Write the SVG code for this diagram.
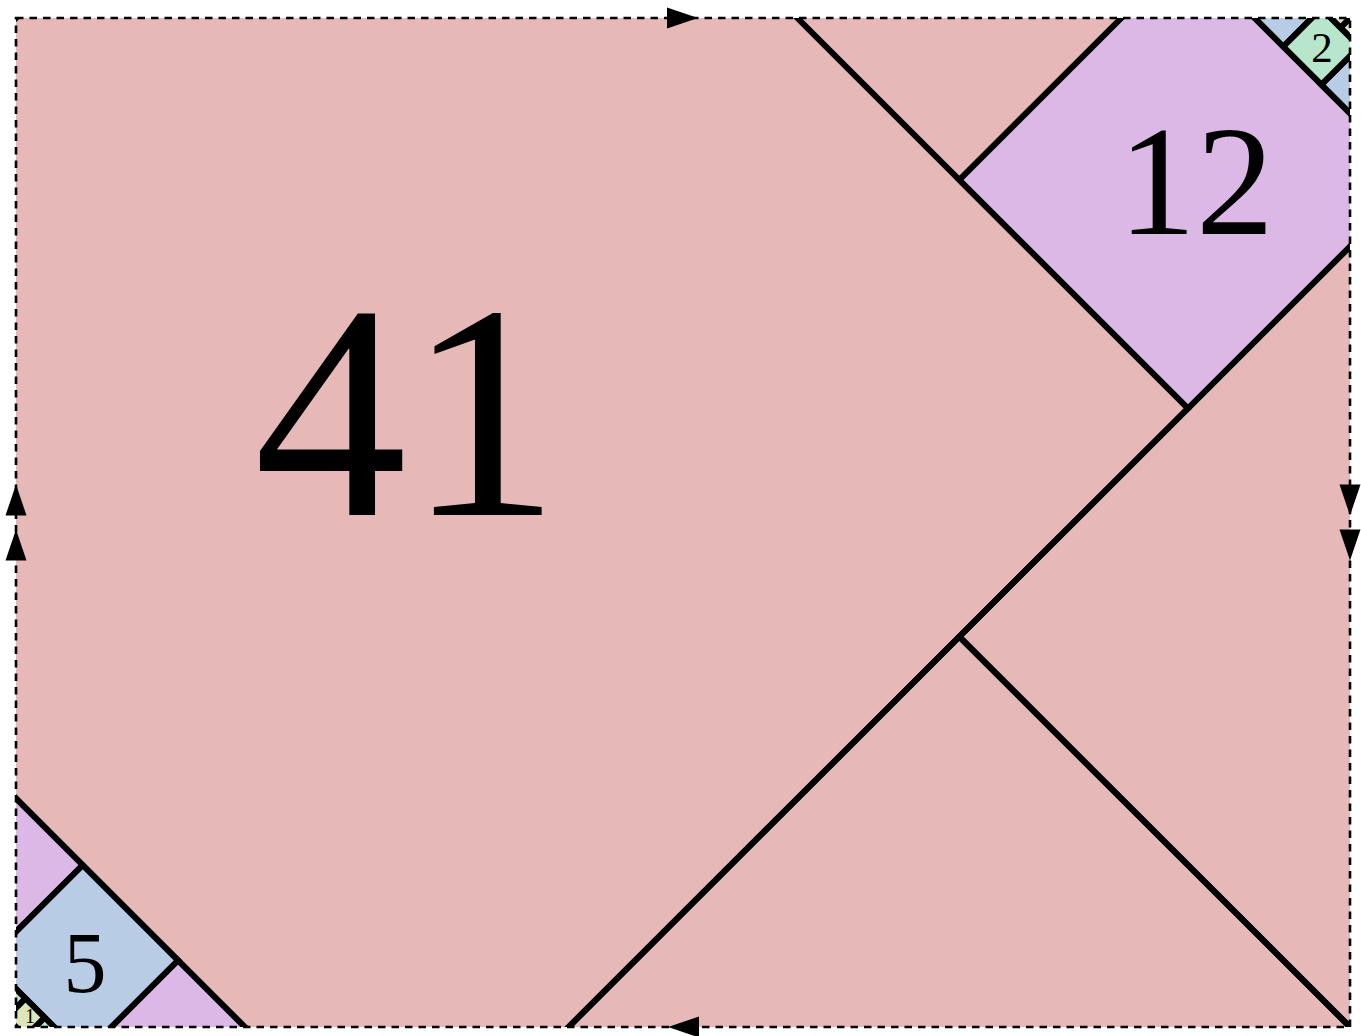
<svg xmlns="http://www.w3.org/2000/svg" width="1361" height="1036" viewBox="0 0 1361 1036">
  <style>
    .e { stroke: #000; stroke-width: 6; vector-effect: non-scaling-stroke; stroke-linejoin: miter; }
    .n { fill: none; }
    .p41 { fill: #e6b8b7; }
    .p12 { fill: #dcb8e6; }
    .p5 { fill: #b8cce6; }
    .p2 { fill: #b8e6cc; }
    .p1 { fill: #dce6b8; }
    .lbl { font-family: "Liberation Serif", "Times New Roman", serif; text-anchor: middle; fill: #000; }
    .frame { fill: none; stroke: #000; stroke-width: 2.6; stroke-dasharray: 7.5 6; }
  </style>
  <defs>
    <clipPath id="dom">
      <rect x="16" y="18" width="1334" height="1009"/>
    </clipPath>
    <path id="arr" d="M 15.5 0 L -15.5 -10.5 L -15.5 10.5 Z" fill="#000"/>
  </defs>
  <rect x="0" y="0" width="1361" height="1036" fill="#fff"/>
  <g id="tiles" clip-path="url(#dom)">
    <g id="tile-41">
      <rect class="p41" x="16" y="18" width="1334" height="1009"/>
      <g transform="translate(16 18) scale(19.0571 19.0377)">
        <polygon class="e n" points="-20.5,20.5 20.5,-20.5 61.5,20.5 20.5,61.5"/>
        <polygon class="e n" points="49.5,32.5 90.5,-8.5 131.5,32.5 90.5,73.5"/>
        <polygon class="e n" points="90.5,73.5 49.5,32.5 8.5,73.5 49.5,114.5"/>
      </g>
      <text class="lbl" x="407" y="515" font-size="306">41</text>
    </g>
    <g id="tile-12">
      <g transform="translate(16 18) scale(19.0571 19.0377)">
        <polygon class="e p12" points="49.5,8.5 61.5,-3.5 73.5,8.5 61.5,20.5"/>
        <polygon class="e p12" points="20.5,61.5 8.5,49.5 -3.5,61.5 8.5,73.5"/>
        <polygon class="e p12" points="-20.5,44.5 -8.5,32.5 3.5,44.5 -8.5,56.5"/>
      </g>
      <text class="lbl" x="1196" y="234" font-size="156">12</text>
    </g>
    <g id="tile-5">
      <g transform="translate(16 18) scale(19.0571 19.0377)">
        <polygon class="e p5" points="-1.5,49.5 3.5,44.5 8.5,49.5 3.5,54.5"/>
        <polygon class="e p5" points="68.5,3.5 73.5,-1.5 78.5,3.5 73.5,8.5"/>
        <polygon class="e p5" points="61.5,-3.5 66.5,-8.5 71.5,-3.5 66.5,1.5"/>
      </g>
      <text class="lbl" x="85" y="992" font-size="86">5</text>
    </g>
    <g id="tile-2">
      <g transform="translate(16 18) scale(19.0571 19.0377)">
        <polygon class="e p2" points="66.5,1.5 68.5,-0.5 70.5,1.5 68.5,3.5"/>
        <polygon class="e p2" points="-0.5,54.5 1.5,52.5 3.5,54.5 1.5,56.5"/>
        <polygon class="e p2" points="-3.5,51.5 -1.5,49.5 0.5,51.5 -1.5,53.5"/>
      </g>
      <text class="lbl" x="1322" y="62" font-size="43">2</text>
    </g>
    <g id="tile-1">
      <g transform="translate(16 18) scale(19.0571 19.0377)">
        <polygon class="e p1" points="-0.5,52.5 0.5,51.5 1.5,52.5 0.5,53.5"/>
        <polygon class="e p1" points="69.5,0.5 70.5,-0.5 71.5,0.5 70.5,1.5"/>
        <polygon class="e p1" points="68.5,-0.5 69.5,-1.5 70.5,-0.5 69.5,0.5"/>
      </g>
      <text class="lbl" x="30" y="1023" font-size="20">1</text>
    </g>
  </g>
  <g id="connectors">
    <rect class="frame" x="16" y="18" width="1334" height="1009"/>
    <use href="#arr" transform="translate(682.5 18)"/>
    <use href="#arr" transform="translate(683.5 1027) rotate(180)"/>
    <use href="#arr" transform="translate(16 500) rotate(-90)"/>
    <use href="#arr" transform="translate(16 545) rotate(-90)"/>
    <use href="#arr" transform="translate(1350 500) rotate(90)"/>
    <use href="#arr" transform="translate(1350 545) rotate(90)"/>
  </g>
</svg>
